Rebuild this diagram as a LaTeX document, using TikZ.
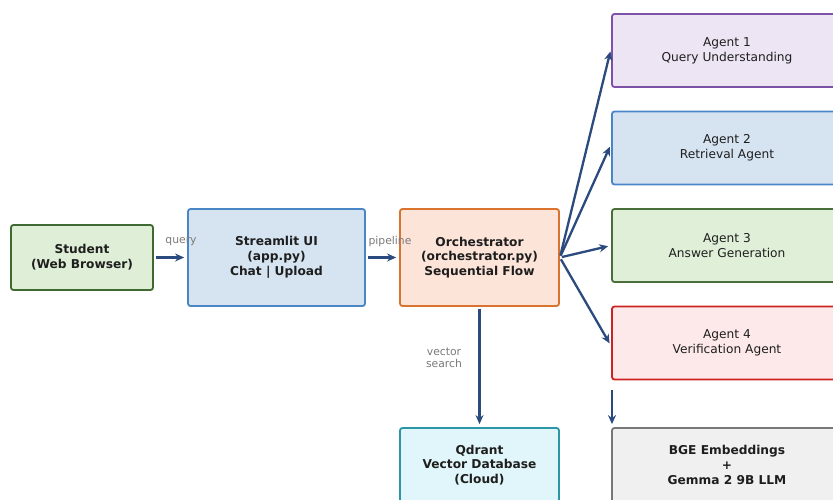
\documentclass[tikz,border=0pt]{standalone}
\usepackage{fontspec}
\setmainfont{DejaVu Sans}
\usetikzlibrary{arrows.meta}
\definecolor{arr}{HTML}{2B4A7E}
\definecolor{lbl}{HTML}{7A7A7A}
\definecolor{txt}{HTML}{1E1E1E}
\definecolor{stuD}{HTML}{3F6B33}\definecolor{stuF}{HTML}{DFEED7}
\definecolor{uiD}{HTML}{4A86C5}\definecolor{uiF}{HTML}{D6E4F2}
\definecolor{orD}{HTML}{D9732E}\definecolor{orF}{HTML}{FDE4D9}
\definecolor{aoD}{HTML}{7D52A8}\definecolor{aoF}{HTML}{EDE5F4}
\definecolor{atD}{HTML}{4A6E3A}\definecolor{atF}{HTML}{E0EFD8}
\definecolor{afD}{HTML}{CC2222}\definecolor{afF}{HTML}{FDE9E9}
\definecolor{qdD}{HTML}{2A96A6}\definecolor{qdF}{HTML}{E1F6FA}
\definecolor{bgD}{HTML}{777777}\definecolor{bgF}{HTML}{F0F0F0}
\tikzset{
  box/.style={draw, line width=1.8pt, rounded corners=2.5pt, align=center, inner sep=0pt,
    text=txt, font=\fontsize{12.2}{14.8}\selectfont},
  bbox/.style={box, font=\fontsize{12.2}{14.8}\selectfont\bfseries},
  conn/.style={draw=arr, line width=2.3pt, -{Stealth[length=9pt,width=8pt]}, shorten >=3pt, shorten <=2pt},
  lab/.style={text=lbl, font=\fontsize{10.8}{12.5}\selectfont, align=center, inner sep=0pt}
}
\begin{document}
\begin{tikzpicture}[x=1pt,y=-1pt]
\useasboundingbox (0,0) rectangle (833,499);
\clip (0,0) rectangle (833,499);
\node[bbox, draw=stuD, fill=stuF, minimum width=142pt, minimum height=65pt] (stu) at (82,257.5) {Student\\(Web Browser)};
\node[bbox, draw=uiD, fill=uiF, minimum width=177pt, minimum height=97pt] (ui) at (276.5,257.5) {Streamlit UI\\(app.py)\\Chat | Upload};
\node[bbox, draw=orD, fill=orF, minimum width=159pt, minimum height=97pt] (orc) at (479.5,257.5) {Orchestrator\\(orchestrator.py)\\Sequential Flow};
\node[box, draw=aoD, fill=aoF, minimum width=230pt, minimum height=73pt] (a1) at (727,50.5) {Agent 1\\Query Understanding};
\node[box, draw=uiD, fill=uiF, minimum width=230pt, minimum height=73pt] (a2) at (727,148) {Agent 2\\Retrieval Agent};
\node[box, draw=atD, fill=atF, minimum width=230pt, minimum height=73pt] (a3) at (727,245.5) {Agent 3\\Answer Generation};
\node[box, draw=afD, fill=afF, minimum width=230pt, minimum height=73pt] (a4) at (727,343) {Agent 4\\Verification Agent};
\node[bbox, draw=qdD, fill=qdF, minimum width=159pt, minimum height=74pt] (qd) at (479.5,465) {Qdrant\\Vector Database\\(Cloud)};
\node[bbox, draw=bgD, fill=bgF, minimum width=230pt, minimum height=74pt] (bge) at (727,465) {BGE Embeddings\\+\\Gemma 2 9B LLM};
\draw[conn] (stu) -- (ui);
\draw[conn] (ui) -- (orc);
\node[lab] (lq) at (181,242) {query};
\node[lab] (lp) at (390,242) {pipeline};
\draw[conn] (orc.east) -- ([yshift=2pt]a1.west);
\draw[conn] (orc.east) -- ([yshift=4pt]a2.west);
\draw[conn] (orc.east) -- (a3.west);
\draw[conn] (orc.east) -- ([yshift=-3pt]a4.west);
\draw[conn] (orc) -- (qd);
\node[lab] (lv) at (444,358) {vector\\search};
\coordinate (bs) at (612,390);
\draw[conn, shorten <=0pt] (bs) -- (bs |- bge.north);
\end{tikzpicture}
\end{document}
